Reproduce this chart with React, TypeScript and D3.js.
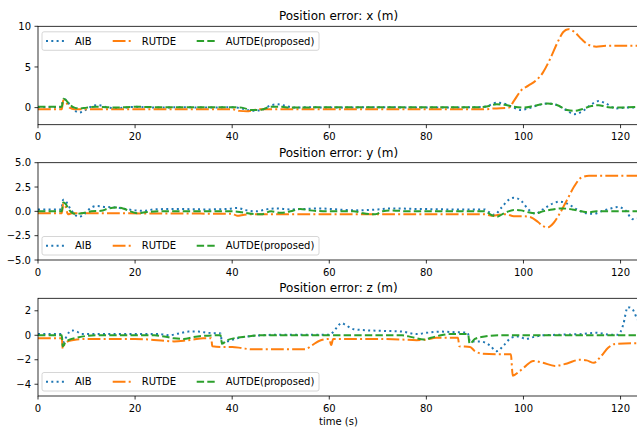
import React, { useEffect, useRef } from 'react';
import * as d3 from 'd3';

type Pt = [number, number];

const seriesNames = ['AIB', 'RUTDE', 'AUTDE(proposed)'];
const seriesColors = ['#1f77b4', '#ff7f0e', '#2ca02c'];
const seriesDash = ['2,3.3', '12.8,3.2,2,3.2', '7.4,3.2'];

const xTicks = [0, 20, 40, 60, 80, 100, 120];
const panelTitles = ['Position error: x (m)', 'Position error: y (m)', 'Position error: z (m)'];
const yTicksX = [0, 5, 10];
const yTicksY = [-5, -2.5, 0, 2.5, 5];
const yLabelsY = ['−5.0', '−2.5', '0.0', '2.5', '5.0'];
const yTicksZ = [-4, -2, 0, 2];

// x error
const xAib: Pt[] = [[0,0.05],[4.8,0.05],[5.2,0.9],[5.6,1.0],[6.5,0.4],[7.5,-0.3],[8.5,-0.6],[9.5,-0.4],[10.5,0.0],[12,0.3],[13,0.25],[14.5,0.0],[16,-0.05],[18,0.0],[20,0.1],[22,0.05],[25,0.0],[30,0.05],[35,0.0],[40,0.05],[42,-0.1],[44,-0.4],[46,-0.3],[48,0.3],[49.5,0.4],[51,0.2],[53,0.0],[56,0.05],[60,0.0],[70,0.05],[80,0.0],[90,0.05],[92,0.1],[94.5,0.6],[96,0.5],[98,0.0],[99.5,-0.3],[101,-0.1],[103,0.3],[105,0.5],[106.5,0.4],[108.5,-0.2],[110.5,-0.8],[112,-0.5],[114,0.4],[115.5,0.8],[117,0.5],[119,-0.1],[121,0.0],[124,0.0]];
const xRutde: Pt[] = [[0,-0.2],[4.9,-0.2],[5.2,0.9],[5.6,0.8],[6.5,0.0],[7.5,-0.2],[40,-0.2],[41.5,-0.4],[43,-0.45],[44.5,-0.3],[46,-0.2],[92,-0.2],[94,-0.1],[97,0.0],[98,0.8],[99.5,2.1],[101,2.7],[102.5,3.3],[104,4.3],[105.5,6.0],[107,8.0],[108.2,9.3],[109.2,9.65],[110.5,9.3],[112,8.4],[113.5,7.7],[115,7.5],[117,7.6],[124,7.6]];
const xAutde: Pt[] = [[0,0.1],[4.9,0.1],[5.2,1.1],[5.6,1.0],[6.5,0.4],[7.5,0.0],[8.5,-0.1],[10,0.0],[12,0.1],[14,0.05],[16,0.0],[20,0.1],[25,0.05],[40,0.05],[42,0.0],[44,-0.3],[46,-0.25],[48,0.1],[50,0.1],[52,0.0],[60,0.05],[90,0.05],[92,0.1],[94.5,0.4],[96,0.35],[98,0.1],[100,0.0],[102,0.2],[105,0.5],[107,0.3],[109,-0.3],[110.5,-0.4],[112,-0.2],[114,0.2],[115.5,0.3],[117,0.1],[119,0.0],[124,0.1]];

// y error
const yAib: Pt[] = [[0,0.2],[4.8,0.2],[5.2,1.2],[5.8,1.0],[6.5,0.4],[7.5,-0.3],[8.5,-0.55],[9.5,-0.3],[10.5,0.2],[12,0.55],[14,0.45],[16,0.4],[18,0.25],[20,0.1],[21.5,0.05],[24,0.2],[28,0.25],[35,0.2],[39,0.25],[41,0.35],[43,0.1],[45,0.0],[47,0.2],[49,0.3],[52,0.2],[55,0.25],[58,0.3],[60,0.25],[63,0.15],[66,0.1],[70,0.2],[73,0.3],[78,0.25],[85,0.2],[92,0.2],[93,-0.1],[94,-0.35],[95.5,0.4],[97,1.2],[98,1.4],[99.5,1.1],[101,0.2],[102.5,-0.25],[104,0.2],[106,0.8],[107.5,1.0],[109,0.8],[111,0.2],[113,-0.2],[114.5,-0.25],[116,0.0],[118,0.3],[119.5,0.45],[121,0.1],[122.5,-0.8],[124,-0.7]];
const yRutde: Pt[] = [[0,-0.2],[4.9,-0.2],[5.2,0.8],[5.6,0.6],[6.2,-0.3],[7,-0.2],[40,-0.25],[41,-0.45],[42.5,-0.35],[44,-0.3],[92,-0.3],[93.5,-0.45],[95,-0.35],[96.5,-0.3],[98,-0.5],[100,-0.5],[101.5,-0.6],[103,-1.1],[104,-1.5],[105,-1.65],[106.2,-1.2],[107.5,-0.2],[109,1.2],[110.5,2.6],[112,3.5],[113.5,3.65],[124,3.65]];
const yAutde: Pt[] = [[0,0.0],[4.9,0.0],[5.2,0.9],[5.6,0.8],[6.5,0.1],[7.5,-0.25],[9,-0.2],[11,0.0],[13,0.05],[14.5,0.3],[16,0.4],[17.5,0.3],[19,0.0],[20.5,-0.2],[22,-0.1],[25,0.0],[40,0.0],[42,-0.1],[44,-0.25],[46,-0.3],[48,0.0],[50,-0.15],[52,0.0],[54,0.25],[56,0.1],[60,0.0],[65,0.0],[67,-0.2],[69.5,-0.3],[71,0.0],[73,0.1],[76,0.0],[92,0.0],[93.5,-0.4],[94.5,-0.55],[96,-0.2],[98,0.15],[99.5,0.1],[101,-0.1],[102.5,-0.2],[104,0.0],[106,0.2],[108,0.3],[110,0.2],[112,0.0],[113.5,-0.1],[115,0.0],[117,0.0],[124,0.0]];

// z error
const zAib: Pt[] = [[0,0.1],[4.8,0.1],[5.1,-0.6],[5.6,-0.3],[6.3,0.2],[7,0.4],[8,0.3],[9,0.1],[10,0.1],[25,0.1],[27,0.0],[29,0.15],[31,0.3],[33,0.3],[35,0.2],[37.6,0.15],[37.9,-0.6],[39,-0.5],[41,-0.25],[43,-0.1],[46,0.0],[50,0.05],[55,0.05],[60,0.05],[61.5,0.6],[62.5,1.0],[63.5,0.8],[65,0.5],[68,0.4],[72,0.35],[75,0.3],[78,0.1],[80,0.2],[83,0.3],[86,0.25],[88.5,0.2],[89,-0.5],[91,-0.5],[93,-0.8],[94.5,-1.3],[96,-0.8],[97.5,-0.2],[99,-0.1],[100.5,-0.3],[102,-0.15],[104,0.0],[108,0.05],[112,0.1],[115,0.2],[118,0.05],[119.5,0.05],[120.5,0.8],[121.5,2.3],[122.5,2.1],[123.5,1.3],[124,1.1]];
const zRutde: Pt[] = [[0,-0.25],[4.9,-0.25],[5.1,-1.1],[5.5,-0.7],[6.5,-0.45],[8,-0.35],[10,-0.3],[20,-0.3],[23,-0.35],[26,-0.45],[28,-0.5],[30,-0.45],[32,-0.35],[34,-0.25],[35.7,-0.25],[35.9,-0.9],[38,-0.95],[40,-0.95],[42,-1.05],[44,-1.15],[47,-1.15],[55,-1.15],[56.5,-0.8],[58,-0.45],[60,-0.3],[60.4,-0.8],[60.8,-0.3],[70,-0.3],[75,-0.35],[78,-0.4],[80,-0.35],[82,-0.2],[86.5,-0.2],[86.8,-0.9],[89,-0.95],[90,-1.3],[91.5,-1.5],[95,-1.55],[97.4,-1.55],[97.8,-3.3],[99,-3.0],[100.5,-2.5],[102,-2.1],[104,-2.25],[106.5,-2.5],[109,-2.3],[111.5,-2.0],[113,-2.05],[114.5,-2.25],[116,-1.7],[117.5,-1.0],[119,-0.7],[124,-0.65]];
const zAutde: Pt[] = [[0,0.0],[4.9,0.0],[5.1,-0.9],[5.6,-0.6],[6.5,-0.35],[8,-0.2],[10,-0.05],[12,0.0],[24,0.0],[26,-0.1],[28,-0.25],[30,-0.3],[32,-0.15],[34,-0.05],[37.6,0.0],[37.9,-0.7],[39,-0.4],[41,-0.2],[43,-0.1],[46,0.0],[75,0.0],[77,-0.15],[79.5,-0.35],[81,-0.2],[83,0.0],[85,0.1],[88.6,0.1],[88.9,-0.7],[90,-0.3],[92,-0.1],[95,0.0],[124,0.0]];

const W = 637;
const H = 428;
const FONT = 'DejaVu Sans, sans-serif';

export default function App() {
  const ref = useRef<SVGSVGElement>(null);

  useEffect(() => {
    const svg = d3.select(ref.current);
    svg.selectAll('*').remove();

    const x = d3.scaleLinear().domain([0, 123.8]).range([38, 639]);

    const panels = [
      { title: panelTitles[0], top: 26.3, bottom: 124.7, domain: [-2.1, 10], ticks: yTicksX, labels: yTicksX.map(String), data: [xAib, xRutde, xAutde], legendTop: true },
      { title: panelTitles[1], top: 162.7, bottom: 260, domain: [-5, 5], ticks: yTicksY, labels: yLabelsY, data: [yAib, yRutde, yAutde], legendTop: false },
      { title: panelTitles[2], top: 298.3, bottom: 396, domain: [-4.96, 3.02], ticks: yTicksZ, labels: yTicksZ.map(d => d3.format('d')(d).replace('-', '−')), data: [zAib, zRutde, zAutde], legendTop: false },
    ];

    panels.forEach((p, i) => {
      const y = d3.scaleLinear().domain(p.domain).range([p.bottom, p.top]);
      const g = svg.append('g');
      const clipId = `clip${i}`;
      g.append('clipPath').attr('id', clipId).append('rect')
        .attr('x', x.range()[0]).attr('y', p.top)
        .attr('width', x.range()[1] - x.range()[0]).attr('height', p.bottom - p.top);

      const line = d3.line<Pt>().x(d => x(d[0])).y(d => y(d[1])).curve(d3.curveMonotoneX);
      p.data.forEach((s, k) => {
        g.append('path').attr('d', line(s)).attr('fill', 'none')
          .attr('stroke', seriesColors[k]).attr('stroke-width', 2)
          .attr('stroke-dasharray', seriesDash[k])
          .attr('clip-path', `url(#${clipId})`);
      });

      // spines
      g.append('rect').attr('x', x.range()[0]).attr('y', p.top)
        .attr('width', x.range()[1] - x.range()[0]).attr('height', p.bottom - p.top)
        .attr('fill', 'none').attr('stroke', '#000').attr('stroke-width', 0.8);

      // x ticks
      xTicks.forEach(t => {
        g.append('line').attr('x1', x(t)).attr('x2', x(t)).attr('y1', p.bottom).attr('y2', p.bottom + 3.5)
          .attr('stroke', '#000').attr('stroke-width', 0.8);
        g.append('text').attr('x', x(t)).attr('y', p.bottom + 15.5).attr('text-anchor', 'middle')
          .attr('font-family', FONT).attr('font-size', 10).attr('fill', '#000').text(String(t));
      });
      // y ticks
      p.ticks.forEach((t, j) => {
        g.append('line').attr('x1', 38).attr('x2', 34.5).attr('y1', y(t)).attr('y2', y(t))
          .attr('stroke', '#000').attr('stroke-width', 0.8);
        g.append('text').attr('x', 31).attr('y', y(t) + 3.6).attr('text-anchor', 'end')
          .attr('font-family', FONT).attr('font-size', 10).attr('fill', '#000').text(p.labels[j]);
      });

      g.append('text').attr('x', 338.5).attr('y', p.top - 6).attr('text-anchor', 'middle')
        .attr('font-family', FONT).attr('font-size', 12).attr('fill', '#000').text(p.title);

      // legend
      const lh = 18.5;
      const ly = p.legendTop ? p.top + 5.5 : p.bottom - 5 - lh;
      const lg = g.append('g').attr('transform', `translate(42,${ly})`);
      lg.append('rect').attr('width', 277).attr('height', lh).attr('rx', 2)
        .attr('fill', 'rgba(255,255,255,0.8)').attr('stroke', '#cccccc').attr('stroke-width', 0.8);
      const offs = [4, 70.7, 154.7];
      seriesNames.forEach((n, k) => {
        lg.append('line').attr('x1', offs[k]).attr('x2', offs[k] + 20).attr('y1', lh / 2).attr('y2', lh / 2)
          .attr('stroke', seriesColors[k]).attr('stroke-width', 2).attr('stroke-dasharray', seriesDash[k]);
        lg.append('text').attr('x', offs[k] + 29).attr('y', lh / 2 + 3.6)
          .attr('font-family', FONT).attr('font-size', 10).attr('fill', '#000').text(n);
      });
    });

    svg.append('text').attr('x', 338.5).attr('y', 425).attr('text-anchor', 'middle')
      .attr('font-family', FONT).attr('font-size', 10).attr('fill', '#000').text('time (s)');
  }, []);

  return (
    <svg ref={ref} width={W} height={H}
      style={{ position: 'absolute', left: 0, top: 0, background: '#fff' }} />
  );
}
